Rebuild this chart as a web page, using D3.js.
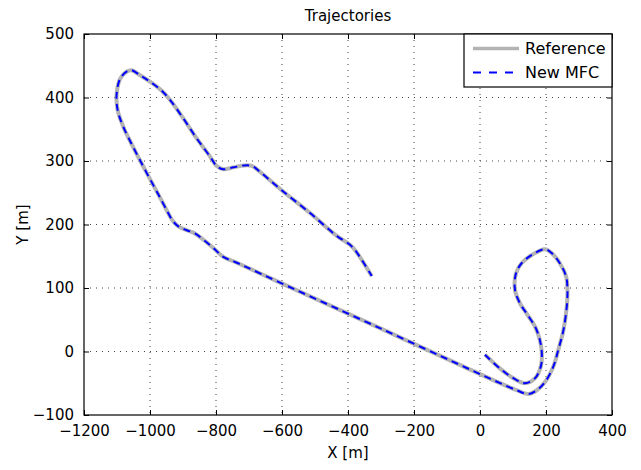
<!DOCTYPE html>
<html>
<head>
<meta charset="utf-8">
<script src="https://cdn.jsdelivr.net/npm/d3@7"></script>
<style>
  body { margin: 0; background: #fff; }
  text { font-family: "DejaVu Sans", sans-serif; fill: #000; }
</style>
</head>
<body>
<svg id="chart" width="641" height="470"></svg>
<script>
// ---- data ----
const titleText = "Trajectories";
const xLabel = "X [m]";
const yLabel = "Y [m]";
const xTicks = [-1200, -1000, -800, -600, -400, -200, 0, 200, 400];
const yTicks = [-100, 0, 100, 200, 300, 400, 500];
const seriesNames = ["Reference", "New MFC"];

const refX = [15, 61, 101, 136, 167, 185, 187, 180, 167, 141, 121, 106, 109, 126, 157, 197, 217, 242, 261, 265, 263, 253, 237, 222, 197, 172, 146, 111, 40, -61, -300, -566, -742, -778, -808, -838, -864, -889, -914, -930, -945, -965, -990, -1020, -1051, -1081, -1098, -1101, -1090, -1070, -1056, -1030, -1000, -965, -939, -899, -859, -818, -798, -778, -747, -715, -690, -667, -601, -515, -434, -394, -379, -358, -328];
const refY = [-5, -27, -42, -50, -42, -22, 0, 21, 39, 60, 76, 97, 123, 139, 152, 161, 155, 139, 118, 97, 71, 34, 2, -24, -48, -61, -67, -61, -45, -21, 36, 99, 141, 149, 163, 176, 186, 191, 197, 205, 218, 238, 262, 291, 322, 354, 380, 406, 430, 441, 443, 435, 425, 411, 396, 367, 336, 307, 292, 287, 290, 293, 292, 283, 254, 218, 182, 168, 160, 144, 119];
const mfcX = refX.slice();
const mfcY = refY.slice();

// ---- layout ----
const svg = d3.select("#chart");
const L = 84, R = 612, T = 34, B = 415;
const x = d3.scaleLinear().domain([-1200, 400]).range([L, R]);
const y = d3.scaleLinear().domain([-100, 500]).range([B, T]);

svg.append("rect").attr("width", 641).attr("height", 470).attr("fill", "#fff");

// grid
const grid = svg.append("g");
xTicks.slice(1, -1).forEach(v => {
  grid.append("line").attr("x1", x(v)).attr("x2", x(v)).attr("y1", T).attr("y2", B)
    .attr("stroke", "#444").attr("stroke-width", 1).attr("stroke-dasharray", "1,5");
});
yTicks.slice(1, -1).forEach(v => {
  grid.append("line").attr("x1", L).attr("x2", R).attr("y1", y(v)).attr("y2", y(v))
    .attr("stroke", "#444").attr("stroke-width", 1).attr("stroke-dasharray", "1,5");
});

// lines
const ref = refX.map((v, i) => [v, refY[i]]);
const mfc = mfcX.map((v, i) => [v, mfcY[i]]);
const line = d3.line().x(d => x(d[0])).y(d => y(d[1])).curve(d3.curveCatmullRom.alpha(0.5));
svg.append("path").attr("d", line(ref)).attr("fill", "none")
  .attr("stroke", "#b3b3b3").attr("stroke-width", 4).attr("stroke-linejoin", "round");
svg.append("path").attr("d", line(mfc)).attr("fill", "none")
  .attr("stroke", "#0000ff").attr("stroke-width", 2).attr("stroke-dasharray", "7,5");

// axes with inward ticks on all sides
const tl = 5;
const fmt = d => d < 0 ? "\u2212" + Math.abs(d) : String(d);
svg.append("g").attr("transform", `translate(0,${B})`)
  .call(d3.axisBottom(x).tickValues(xTicks).tickSizeInner(-tl).tickSizeOuter(0).tickPadding(10).tickFormat(fmt))
  .call(g => { g.select(".domain").remove(); g.selectAll("text").attr("font-size", 15).attr("font-family", "DejaVu Sans"); });
svg.append("g").attr("transform", `translate(0,${T})`)
  .call(d3.axisTop(x).tickValues(xTicks).tickSizeInner(-tl).tickSizeOuter(0).tickFormat(""))
  .call(g => g.select(".domain").remove());
svg.append("g").attr("transform", `translate(${L},0)`)
  .call(d3.axisLeft(y).tickValues(yTicks).tickSizeInner(-tl).tickSizeOuter(0).tickPadding(10).tickFormat(fmt))
  .call(g => { g.select(".domain").remove(); g.selectAll("text").attr("font-size", 15).attr("font-family", "DejaVu Sans"); });
svg.append("g").attr("transform", `translate(${R},0)`)
  .call(d3.axisRight(y).tickValues(yTicks).tickSizeInner(-tl).tickSizeOuter(0).tickFormat(""))
  .call(g => g.select(".domain").remove());

svg.append("rect").attr("x", L).attr("y", T).attr("width", R - L).attr("height", B - T)
  .attr("fill", "none").attr("stroke", "#000").attr("stroke-width", 1.2);

// titles
svg.append("text").attr("x", (L + R) / 2).attr("y", 21).attr("text-anchor", "middle")
  .attr("font-size", 15).text(titleText);
svg.append("text").attr("x", (L + R) / 2).attr("y", 458).attr("text-anchor", "middle")
  .attr("font-size", 15).text(xLabel);
svg.append("text").attr("transform", `translate(28,${(T + B) / 2}) rotate(-90)`).attr("text-anchor", "middle")
  .attr("font-size", 15).text(yLabel);

// legend
const lg = svg.append("g");
lg.append("rect").attr("x", 464).attr("y", T).attr("width", R - 464).attr("height", 53)
  .attr("fill", "#fff").attr("stroke", "#000").attr("stroke-width", 1.2);
const rows = [
  { name: seriesNames[0], y: 48.5, stroke: "#b3b3b3", w: 3.5, dash: null },
  { name: seriesNames[1], y: 72.5, stroke: "#0000ff", w: 2, dash: "8,8" }
];
rows.forEach(r => {
  const ln = lg.append("line").attr("x1", 473).attr("x2", 519).attr("y1", r.y).attr("y2", r.y)
    .attr("stroke", r.stroke).attr("stroke-width", r.w);
  if (r.dash) ln.attr("stroke-dasharray", r.dash);
  lg.append("text").attr("x", 525).attr("y", r.y).attr("dy", "0.36em").attr("font-size", 16).text(r.name);
});
</script>
</body>
</html>
